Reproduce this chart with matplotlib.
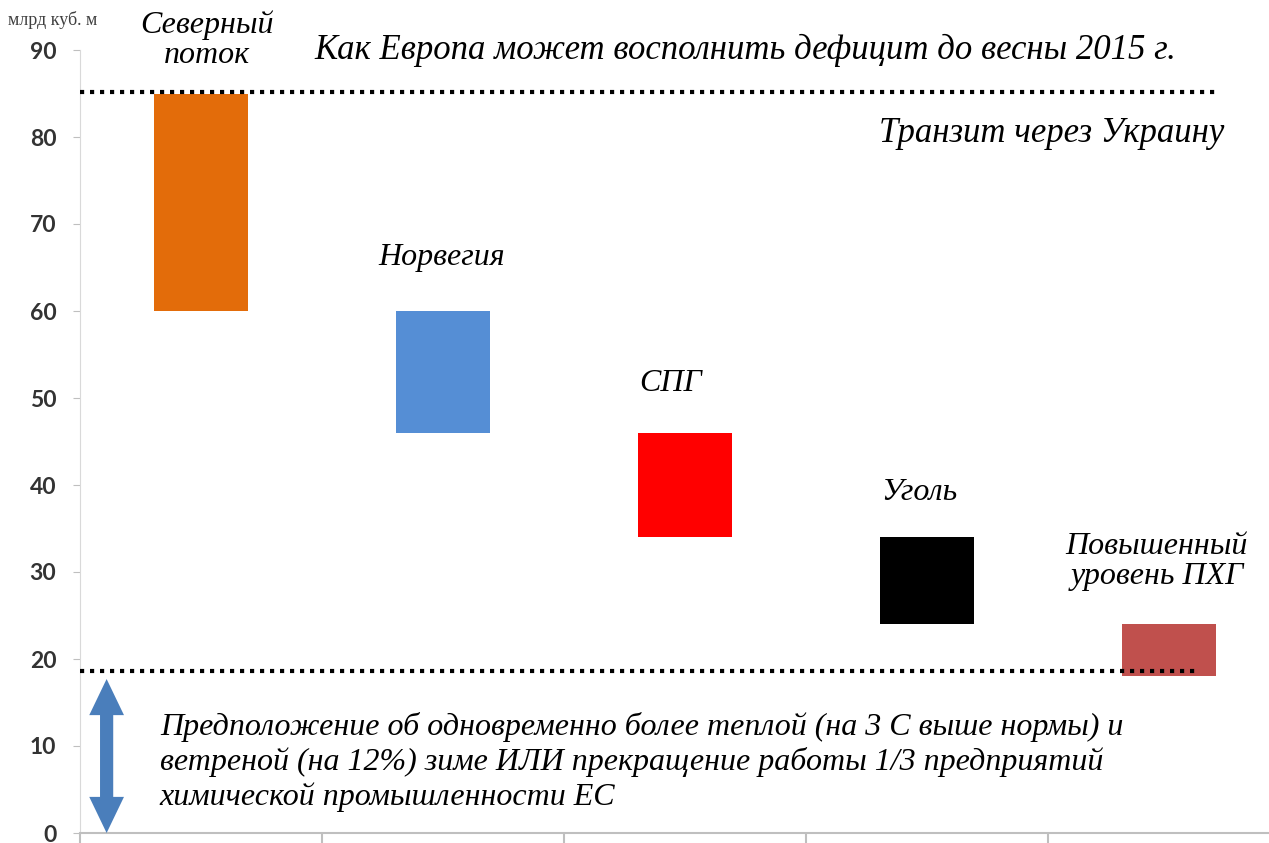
import matplotlib.pyplot as plt

# floating bars: each source covers a slice of the gap
labels = ['Северный\nпоток', 'Норвегия', 'СПГ', 'Уголь', 'Повышенный\nуровень ПХГ']
tops = [85, 60, 46, 34, 24]
bottoms = [60, 46, 34, 24, 18]
colors = ['#e36c0a', '#558ed5', '#ff0000', '#000000', '#c0504d']
ukraine_level = 85.2
floor_level = 18.6
yticks = [0, 10, 20, 30, 40, 50, 60, 70, 80, 90]

serif = 'Liberation Serif'

fig = plt.figure(figsize=(12.69, 8.43), dpi=100)
ax = fig.add_axes([80 / 1269, 10 / 843, 1189 / 1269, 833 / 843])
ax.set_xlim(-0.5, -0.5 + 1189 / 242)
ax.set_ylim(0, 833 / 8.7)

x = list(range(len(labels)))
heights = [t - b for t, b in zip(tops, bottoms)]
ax.bar(x, heights, bottom=bottoms, width=0.39, color=colors, zorder=3)

# dotted reference lines
ax.plot([-0.5, 4.21], [ukraine_level, ukraine_level], color='black',
        lw=3, linestyle=(0, (1, 1.4)), zorder=4)
ax.plot([-0.5, 4.13], [floor_level, floor_level], color='black',
        lw=3, linestyle=(0, (1, 1.4)), zorder=4)

# double arrow for the bottom block (two filled arrows from the middle)
arrow_style = 'simple,head_length=2.6,head_width=2.5,tail_width=0.95'
for tip in (17.7, 0):
    ax.annotate('', xy=(-0.39, tip), xytext=(-0.39, 8.85),
                arrowprops=dict(arrowstyle=arrow_style, mutation_scale=10,
                                lw=0, color='#4a7ebb', shrinkA=0, shrinkB=0))

# axes styling
for s in ['top', 'right']:
    ax.spines[s].set_visible(False)
ax.spines['left'].set_color('#d9d9d9')
ax.spines['left'].set_bounds(0, 90)
ax.spines['bottom'].set_color('#bfbfbf')
ax.spines['bottom'].set_linewidth(1.5)
ax.set_yticks(yticks)
ax.set_yticklabels([str(v) for v in yticks], fontfamily='Lato',
                   fontweight='bold', fontsize=16.5, color='#333333')
ax.tick_params(axis='y', length=5, color='#bfbfbf', pad=12)
ax.set_xticks([-0.5, 0.5, 1.5, 2.5, 3.5])
ax.set_xticklabels([])
ax.tick_params(axis='x', length=7, width=1.5, color='#bfbfbf')

# texts
fig.text(8 / 1269, 1 - 20 / 843, 'млрд куб. м', fontfamily=serif,
         fontsize=13, color='#404040', va='center', ha='left')
ax.text(2.25, 90, 'Как Европа может восполнить дефицит до весны 2015 г.',
        fontfamily=serif, style='italic', fontsize=25, ha='center', va='center')
ax.text(4.23, 80.4, 'Транзит через Украину', fontfamily=serif, style='italic',
        fontsize=25, ha='right', va='center')

label_pos = [(0.025, 91.1), (0.996, 66.1), (1.94, 51.7), (2.97, 39.1), (3.95, 31.2)]
for (lx, ly), lab in zip(label_pos, labels):
    ax.text(lx, ly, lab, fontfamily=serif, style='italic', fontsize=23,
            ha='center', va='center', linespacing=1.05)

note = ('Предположение об одновременно более теплой (на 3 С выше нормы) и\n'
        'ветреной (на 12%) зиме ИЛИ прекращение работы 1/3 предприятий\n'
        'химической промышленности ЕС')
ax.text(-0.17, 8.15, note, fontfamily=serif, style='italic', fontsize=23,
        ha='left', va='center', linespacing=1.22)

fig.savefig('out.png', dpi=100)
